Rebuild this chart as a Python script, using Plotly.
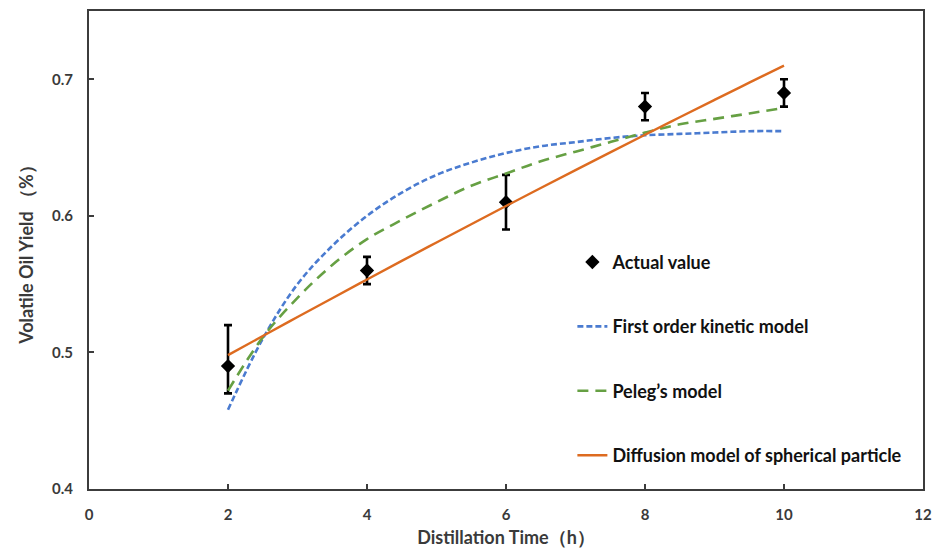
import plotly.graph_objects as go

# Measured volatile oil yield with error bars
time_h = [2, 4, 6, 8, 10]
yield_actual = [0.49, 0.56, 0.61, 0.68, 0.69]
err_plus = [0.03, 0.01, 0.02, 0.01, 0.01]
err_minus = [0.02, 0.01, 0.02, 0.01, 0.01]

# Model curves sampled every half hour
model_t = [2, 2.5, 3, 3.5, 4, 4.5, 5, 5.5, 6, 6.5, 7, 7.5, 8, 8.5, 9, 9.5, 10]
first_order = [0.458, 0.510, 0.550, 0.578, 0.600, 0.617, 0.630, 0.639, 0.646,
               0.651, 0.654, 0.657, 0.659, 0.660, 0.661, 0.662, 0.662]
peleg = [0.472, 0.511, 0.540, 0.564, 0.583, 0.597, 0.610, 0.622, 0.631,
         0.640, 0.647, 0.654, 0.661, 0.667, 0.671, 0.675, 0.679]
diffusion = [0.4980, 0.5120, 0.5259, 0.5397, 0.5534, 0.5670, 0.5805, 0.5939,
             0.6072, 0.6204, 0.6335, 0.6465, 0.6594, 0.6722, 0.6849, 0.6975,
             0.7100]

x_ticks = [0, 2, 4, 6, 8, 10, 12]
y_ticks = [0.4, 0.5, 0.6, 0.7]

FONT = "Lato, 'Open Sans', sans-serif"
AXIS_COLOR = "#3c3c3c"
TEXT_COLOR = "#3a3a3a"

fig = go.Figure()

fig.add_trace(go.Scatter(
    x=time_h, y=yield_actual, mode="markers", name="Actual value",
    legendgroup="a",
    marker=dict(symbol="diamond", size=11, color="black"),
    error_y=dict(type="data", symmetric=False, array=err_plus,
                 arrayminus=err_minus, color="black", thickness=2.6, width=4),
))
fig.add_trace(go.Scatter(
    x=model_t, y=first_order, mode="lines", name="First order kinetic model",
    legendgroup="b", line=dict(color="#4A7BD0", width=2.6, dash="6px,3px",
                               shape="spline"),
))
fig.add_trace(go.Scatter(
    x=model_t, y=peleg, mode="lines", name="Peleg’s model",
    legendgroup="c", line=dict(color="#66A043", width=2.6, dash="11px,7px",
                               shape="spline"),
))
fig.add_trace(go.Scatter(
    x=model_t, y=diffusion, mode="lines",
    name="Diffusion model of spherical particle",
    legendgroup="d", line=dict(color="#DD6B20", width=2.4, shape="spline"),
))

axis_common = dict(
    showgrid=False, zeroline=False, showline=True, linecolor=AXIS_COLOR,
    linewidth=2, mirror=True, ticks="inside", ticklen=5, tickwidth=1.5,
    tickcolor=AXIS_COLOR, automargin=False,
    tickfont=dict(family=FONT, size=15, color=TEXT_COLOR, weight="bold"),
)

fig.update_xaxes(
    range=[0, 12], tickvals=x_ticks, ticktext=[str(v) for v in x_ticks],
    ticklabelstandoff=11,
    title=dict(text="Distillation Time（h）", standoff=9,
               font=dict(family=FONT, size=18, color=TEXT_COLOR, weight="bold")),
    **axis_common,
)
fig.update_yaxes(
    range=[0.4, 0.75], tickvals=y_ticks, ticktext=[f"{v:.1f}" for v in y_ticks],
    ticklabelstandoff=11,
    title=dict(text="Volatile Oil Yield （%）", standoff=14,
               font=dict(family=FONT, size=18, color=TEXT_COLOR, weight="bold")),
    **axis_common,
)

fig.update_layout(
    width=937, height=552,
    margin=dict(l=89, r=14, t=11, b=63),
    plot_bgcolor="white", paper_bgcolor="white",
    font=dict(family=FONT, color=TEXT_COLOR),
    legend=dict(
        x=0.5796, y=0.513, xanchor="left", yanchor="top",
        bgcolor="rgba(0,0,0,0)", itemwidth=30, tracegroupgap=38,
        font=dict(family=FONT, size=18, color="#111111", weight="bold"),
    ),
)

fig.write_html("out.html")
